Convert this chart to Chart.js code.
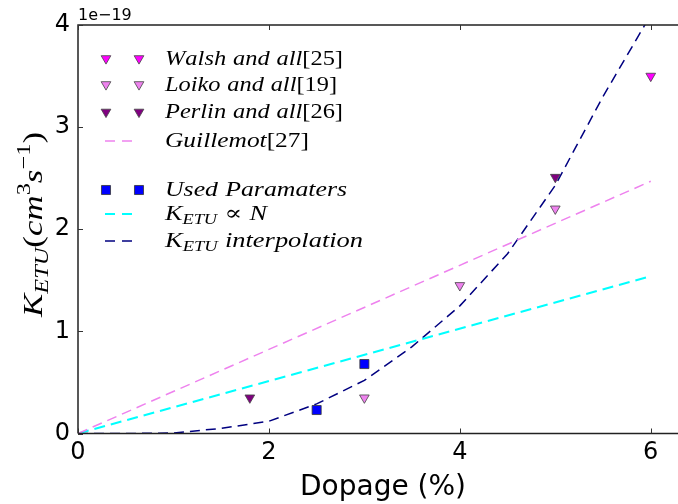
<!DOCTYPE html>
<html>
<head>
<meta charset="utf-8">
<script src="https://cdn.jsdelivr.net/npm/chart.js@4"></script>
<style>
html,body{margin:0;padding:0;background:#fff;}
#wrap{width:678px;height:504px;position:relative;}
</style>
</head>
<body>
<div id="wrap"><canvas id="c" width="678" height="504"></canvas></div>
<script>
// ---- data (y values in units of 1e-19 cm^3 s^-1) ----
const xTicks = [0, 2, 4, 6];
const yTicks = [0, 1, 2, 3, 4];
const walshX = [6];            const walshY = [3.5];
const loikoX = [3, 4, 5];      const loikoY = [0.35, 1.45, 2.2];
const perlinX = [1.8, 5];      const perlinY = [0.35, 2.51];
const usedX = [2.5, 3];        const usedY = [0.23, 0.68];
const guillemotX = [0, 6];     const guillemotY = [0, 2.47];
const propX = [0, 6];          const propY = [0, 1.54];
const interpX = [0, 0.5, 1, 1.5, 2, 2.5, 3, 3.5, 4, 4.5, 5, 5.5, 6];
const interpY = [0, 0, 0.005, 0.05, 0.12, 0.29, 0.52, 0.85, 1.25, 1.76, 2.43, 3.3, 4.1];
const labels = ['Walsh and all[25]', 'Loiko and all[19]', 'Perlin and all[26]', 'Guillemot[27]',
                'Used Paramaters', 'K_{ETU} ∝ N', 'K_{ETU} interpolation'];
const xTitle = 'Dopage (%)';
const yTitle = 'K_{ETU}(cm^{3}s^{−1})';
const offsetText = '1e−19';

function pts(xs, ys) { return xs.map((x, i) => ({x: x, y: ys[i]})); }

const triStyle = {pointStyle: 'triangle', rotation: 180, pointRadius: 5.6, pointBorderWidth: 0.8, pointBorderColor: '#444', showLine: false};
const datasets = [
  Object.assign({label: labels[0], data: pts(walshX, walshY), backgroundColor: '#ff00ff', pointBackgroundColor: '#ff00ff'}, triStyle),
  Object.assign({label: labels[1], data: pts(loikoX, loikoY), backgroundColor: '#ee82ee', pointBackgroundColor: '#ee82ee'}, triStyle),
  Object.assign({label: labels[2], data: pts(perlinX, perlinY), backgroundColor: '#800080', pointBackgroundColor: '#800080'}, triStyle),
  {label: labels[4], data: pts(usedX, usedY), pointStyle: 'rect', pointRadius: 6.4, pointBorderWidth: 0.8,
   pointBorderColor: '#333', backgroundColor: '#0000ff', pointBackgroundColor: '#0000ff', showLine: false},
  {label: labels[3], data: pts(guillemotX, guillemotY), showLine: true, borderColor: '#ee82ee', borderWidth: 1.5,
   borderDash: [10, 6], pointRadius: 0, tension: 0},
  {label: labels[5], data: pts(propX, propY), showLine: true, borderColor: '#00ffff', borderWidth: 2,
   borderDash: [11, 6], pointRadius: 0, tension: 0},
  {label: labels[6], data: pts(interpX, interpY), showLine: true, borderColor: '#000080', borderWidth: 1.5,
   borderDash: [10, 6], pointRadius: 0, tension: 0}
];

// ---- math-ish text renderer ----
function parseMath(s) {
  const out = []; let i = 0;
  while (i < s.length) {
    const c = s[i];
    if ((c === '_' || c === '^') && s[i + 1] === '{') {
      const j = s.indexOf('}', i);
      const lvl = c === '_' ? -1 : 1;
      for (const ch of s.slice(i + 2, j)) out.push({ch: ch, lvl: lvl});
      i = j + 1;
    } else { out.push({ch: c, lvl: 0}); i++; }
  }
  return out;
}
function mathRuns(ctx, s, size) {
  return parseMath(s).map(t => {
    const fs = t.lvl === 0 ? size : size * 0.7;
    const ital = /[A-Za-z]/.test(t.ch);
    const font = (ital ? 'italic ' : '') + fs + 'px "Liberation Serif", "DejaVu Serif", serif';
    ctx.font = font;
    let w = t.ch === ' ' ? size * 0.28 : ctx.measureText(t.ch).width;
    const dy = t.lvl === -1 ? size * 0.2 : (t.lvl === 1 ? -size * 0.42 : 0);
    return {ch: t.ch, font: font, w: w, dy: dy};
  });
}
function drawMath(ctx, s, x, y, size, targetW) {
  const runs = mathRuns(ctx, s, size);
  const total = runs.reduce((a, r) => a + r.w, 0);
  const sx = targetW ? targetW / total : 1;
  ctx.save();
  ctx.translate(x, y);
  ctx.scale(sx, 1);
  ctx.fillStyle = '#000';
  ctx.textBaseline = 'alphabetic';
  ctx.textAlign = 'left';
  let cx = 0;
  runs.forEach(r => { if (r.ch !== ' ') { ctx.font = r.font; ctx.fillText(r.ch, cx, r.dy); } cx += r.w; });
  ctx.restore();
}

// ---- layout / style constants ----
const legendRows = [
  {ds: 0, kind: 'marker', y: 58.5, w: 178},
  {ds: 1, kind: 'marker', y: 84.5, w: 172},
  {ds: 2, kind: 'marker', y: 112, w: 178},
  {ds: 4, kind: 'line', y: 141, w: 144},
  {ds: 3, kind: 'marker', y: 190, w: 182},
  {ds: 5, kind: 'line', y: 214, w: 102},
  {ds: 6, kind: 'line', y: 241, w: 198}
];

function drawMarker(ctx, ds, x, y) {
  ctx.save();
  ctx.fillStyle = ds.pointBackgroundColor;
  ctx.strokeStyle = ds.pointBorderColor;
  ctx.lineWidth = ds.pointBorderWidth;
  Chart.helpers.drawPoint(ctx, {pointStyle: ds.pointStyle, radius: ds.pointRadius, rotation: ds.rotation || 0, borderWidth: ds.pointBorderWidth}, x, y);
  ctx.restore();
}

const decor = {
  id: 'decor',
  afterDraw(chart) {
    const ctx = chart.ctx, a = chart.chartArea, xs = chart.scales.x, ys = chart.scales.y;
    const rightEdge = chart.width;
    ctx.save();
    // spines (axes run past the right edge of the picture)
    ctx.strokeStyle = '#222'; ctx.lineWidth = 1.5; ctx.setLineDash([]);
    ctx.beginPath();
    ctx.moveTo(a.left, a.bottom); ctx.lineTo(a.left, a.top); ctx.lineTo(rightEdge, a.top);
    ctx.moveTo(a.left, a.bottom); ctx.lineTo(rightEdge, a.bottom);
    ctx.stroke();
    // inward ticks
    ctx.lineWidth = 1; ctx.strokeStyle = '#333';
    ctx.beginPath();
    xs.ticks.forEach(t => {
      const px = Math.round(xs.getPixelForValue(t.value)) + 0.5;
      ctx.moveTo(px, a.bottom); ctx.lineTo(px, a.bottom - 5);
      ctx.moveTo(px, a.top); ctx.lineTo(px, a.top + 5);
    });
    ys.ticks.forEach(t => {
      const py = Math.round(ys.getPixelForValue(t.value)) + 0.5;
      ctx.moveTo(a.left, py); ctx.lineTo(a.left + 5, py);
    });
    ctx.stroke();
    // offset text
    ctx.fillStyle = '#000';
    ctx.font = '16px "DejaVu Sans"';
    ctx.textAlign = 'left'; ctx.textBaseline = 'alphabetic';
    ctx.fillText(offsetText, a.left, 20);
    // x title
    ctx.font = '28px "DejaVu Sans"';
    ctx.textAlign = 'center';
    ctx.fillText(xTitle, 383, 495);
    // y title
    ctx.save();
    ctx.translate(42, 317);
    ctx.rotate(-Math.PI / 2);
    drawMath(ctx, yTitle, 0, 0, 28, 185);
    ctx.restore();
    // legend
    legendRows.forEach(r => {
      const ds = chart.data.datasets[r.ds];
      if (r.kind === 'marker') {
        drawMarker(ctx, ds, 106, r.y);
        drawMarker(ctx, ds, 139, r.y);
      } else {
        ctx.save();
        ctx.strokeStyle = ds.borderColor; ctx.lineWidth = ds.borderWidth;
        ctx.setLineDash([10, 7]);
        ctx.beginPath(); ctx.moveTo(105, r.y); ctx.lineTo(134, r.y); ctx.stroke();
        ctx.restore();
      }
      drawMath(ctx, ds.label, 165, r.y + 6, 21, r.w);
    });
    ctx.restore();
  }
};

Chart.defaults.font.family = '"DejaVu Sans"';
Chart.defaults.color = '#000';

new Chart(document.getElementById('c'), {
  type: 'scatter',
  data: {datasets: datasets},
  options: {
    responsive: false,
    animation: false,
    layout: {padding: {top: 25, right: 0, bottom: 0, left: 0}},
    plugins: {legend: {display: false}, tooltip: {enabled: false}},
    scales: {
      x: {
        type: 'linear', min: 0, max: 6.21,
        afterBuildTicks: s => { s.ticks = xTicks.map(v => ({value: v})); },
        afterFit: s => { s.height = 70.5; },
        grid: {display: false, drawTicks: false},
        border: {display: false},
        ticks: {font: {size: 24}, padding: 5, maxRotation: 0, callback: v => String(v)}
      },
      y: {
        type: 'linear', min: 0, max: 4,
        afterBuildTicks: s => { s.ticks = yTicks.map(v => ({value: v})); },
        afterFit: s => { s.width = 78; },
        grid: {display: false, drawTicks: false},
        border: {display: false},
        ticks: {font: {size: 24}, padding: 8, callback: v => String(v)}
      }
    }
  },
  plugins: [decor]
});
</script>
</body>
</html>
